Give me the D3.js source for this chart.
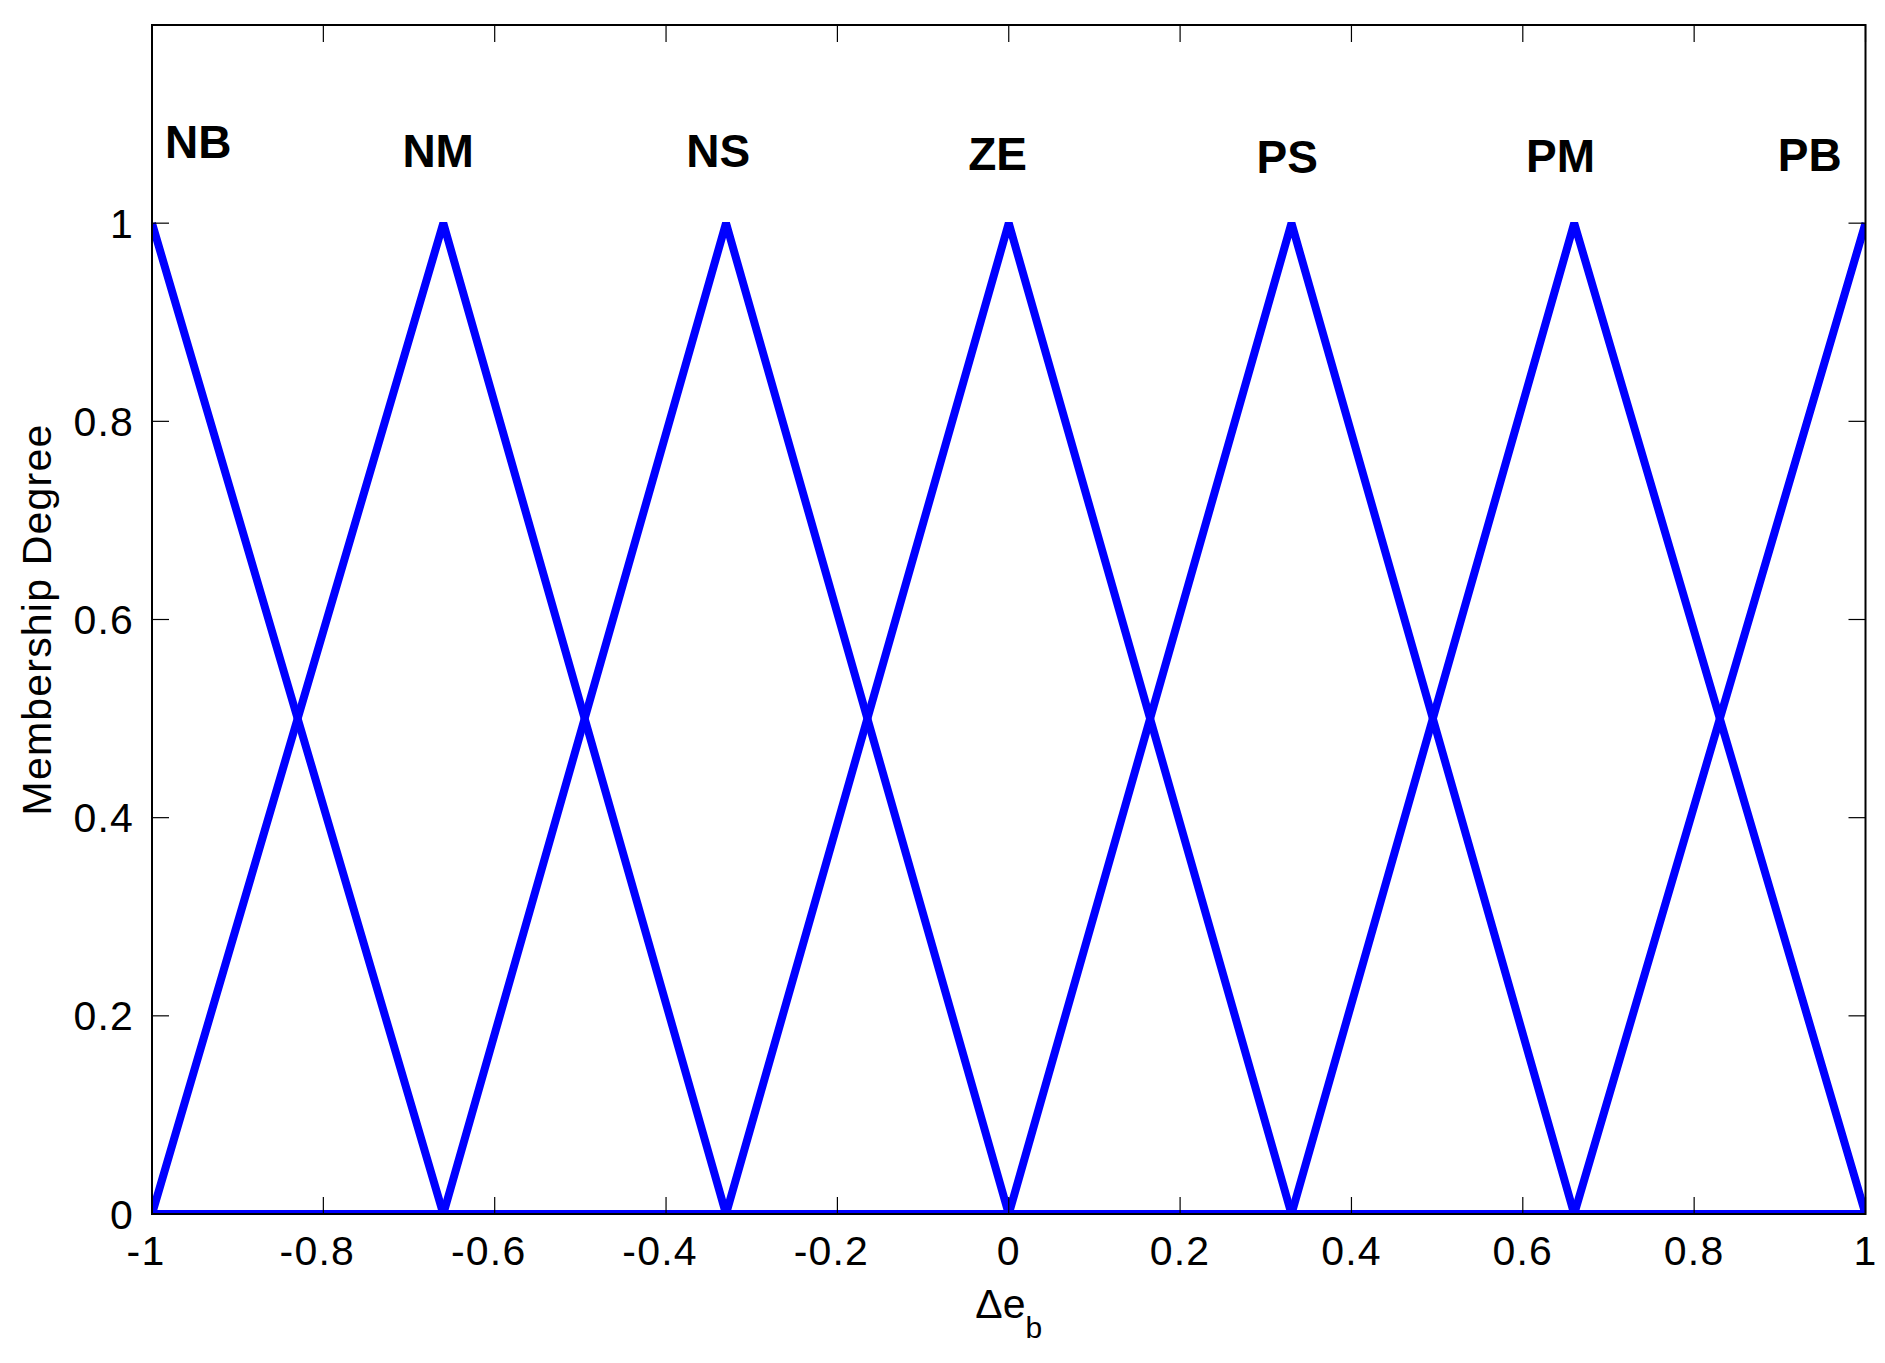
<!DOCTYPE html>
<html>
<head>
<meta charset="utf-8">
<script src="https://cdn.jsdelivr.net/npm/d3@7"></script>
<style>
  html, body { margin: 0; padding: 0; background: #fff; }
  svg { display: block; }
  text { font-family: "Liberation Sans", Arial, sans-serif; }
</style>
</head>
<body>
<svg id="chart" width="1885" height="1363"></svg>
<script>
// ---- data ----
const terms   = ["NB", "NM", "NS", "ZE", "PS", "PM", "PB"];
const mfLeft  = [-1.33, -1, -0.66, -0.33, 0, 0.33, 0.66];
const mfPeak  = [-1, -0.66, -0.33, 0, 0.33, 0.66, 1];
const mfRight = [-0.66, -0.33, 0, 0.33, 0.66, 1, 1.33];
const labelX = [-0.946, -0.666, -0.339, -0.013, 0.325, 0.644, 0.935];
const labelY = [1.066, 1.057, 1.057, 1.054, 1.051, 1.052, 1.053];
const xTicks = [-1, -0.8, -0.6, -0.4, -0.2, 0, 0.2, 0.4, 0.6, 0.8, 1];
const yTicks = [0, 0.2, 0.4, 0.6, 0.8, 1];
const xDomain = [-1, 1];
const yDomain = [0, 1.2];

// ---- layout ----
const L = 152, R = 1865.5, T = 25, B = 1214;
const svg = d3.select("#chart");
svg.append("rect").attr("width", 1885).attr("height", 1363).attr("fill", "#fff");

const x = d3.scaleLinear().domain(xDomain).range([L, R]);
const y = d3.scaleLinear().domain(yDomain).range([B, T]);

svg.append("defs").append("clipPath").attr("id", "plotclip")
  .append("rect").attr("x", L).attr("y", T).attr("width", R - L).attr("height", B - T);

function tri(v, a, b, c) {
  const left = (b - a) === 0 ? 1 : (v - a) / (b - a);
  const right = (c - b) === 0 ? 1 : (c - v) / (c - b);
  return Math.max(0, Math.min(left, right, 1));
}

const line = d3.line().x(d => x(d[0])).y(d => y(d[1]));
const gLines = svg.append("g").attr("clip-path", "url(#plotclip)");
terms.forEach((t, i) => {
  const a = mfLeft[i], b = mfPeak[i], c = mfRight[i];
  let xs = [xDomain[0], a, b, c, xDomain[1]].filter(v => v >= xDomain[0] && v <= xDomain[1]);
  xs = Array.from(new Set(xs)).sort((p, q) => p - q);
  const pts = xs.map(v => [v, tri(v, a, b, c)]);
  gLines.append("path")
    .attr("d", line(pts))
    .attr("fill", "none")
    .attr("stroke", "#0000ff")
    .attr("stroke-width", 8)
    .attr("stroke-linejoin", "bevel");
});

// ---- axes box & ticks ----
const tickLen = 17;
const gAx = svg.append("g");
gAx.append("rect").attr("x", L).attr("y", T).attr("width", R - L).attr("height", B - T)
  .attr("fill", "none").attr("stroke", "#000").attr("stroke-width", 2);

const fmt = v => String(v);
xTicks.forEach(v => {
  gAx.append("line").attr("x1", x(v)).attr("x2", x(v)).attr("y1", B).attr("y2", B - tickLen)
    .attr("stroke", "#000").attr("stroke-width", 1.2);
  gAx.append("line").attr("x1", x(v)).attr("x2", x(v)).attr("y1", T).attr("y2", T + tickLen)
    .attr("stroke", "#000").attr("stroke-width", 1.2);
  gAx.append("text")
    .attr("x", x(v) + (v < 0 ? -6 : 0))
    .attr("y", 1265)
    .attr("text-anchor", "middle")
    .attr("font-size", 41)
    .attr("letter-spacing", 1.2)
    .text(fmt(v));
});
yTicks.forEach(v => {
  gAx.append("line").attr("x1", L).attr("x2", L + tickLen).attr("y1", y(v)).attr("y2", y(v))
    .attr("stroke", "#000").attr("stroke-width", 1.2);
  gAx.append("line").attr("x1", R).attr("x2", R - tickLen).attr("y1", y(v)).attr("y2", y(v))
    .attr("stroke", "#000").attr("stroke-width", 1.2);
  gAx.append("text")
    .attr("x", 134)
    .attr("y", y(v) + 14.5)
    .attr("text-anchor", "end")
    .attr("font-size", 41)
    .attr("letter-spacing", 1.2)
    .text(fmt(v));
});

// ---- term labels ----
terms.forEach((t, i) => {
  svg.append("text")
    .attr("x", x(labelX[i]))
    .attr("y", y(labelY[i]))
    .attr("text-anchor", "middle")
    .attr("font-size", 46)
    .attr("font-weight", "bold")
    .text(t);
});

// ---- axis titles ----
const xt = svg.append("text")
  .attr("x", (L + R) / 2)
  .attr("y", 1318)
  .attr("text-anchor", "middle")
  .attr("font-size", 41);
xt.append("tspan").text("\u0394e");
xt.append("tspan").attr("font-size", 30).attr("dy", 20).text("b");

svg.append("text")
  .attr("transform", `translate(50.5, ${(T + B) / 2}) rotate(-90)`)
  .attr("text-anchor", "middle")
  .attr("font-size", 41)
  .attr("letter-spacing", 1.2)
  .text("Membership Degree");
</script>
</body>
</html>
